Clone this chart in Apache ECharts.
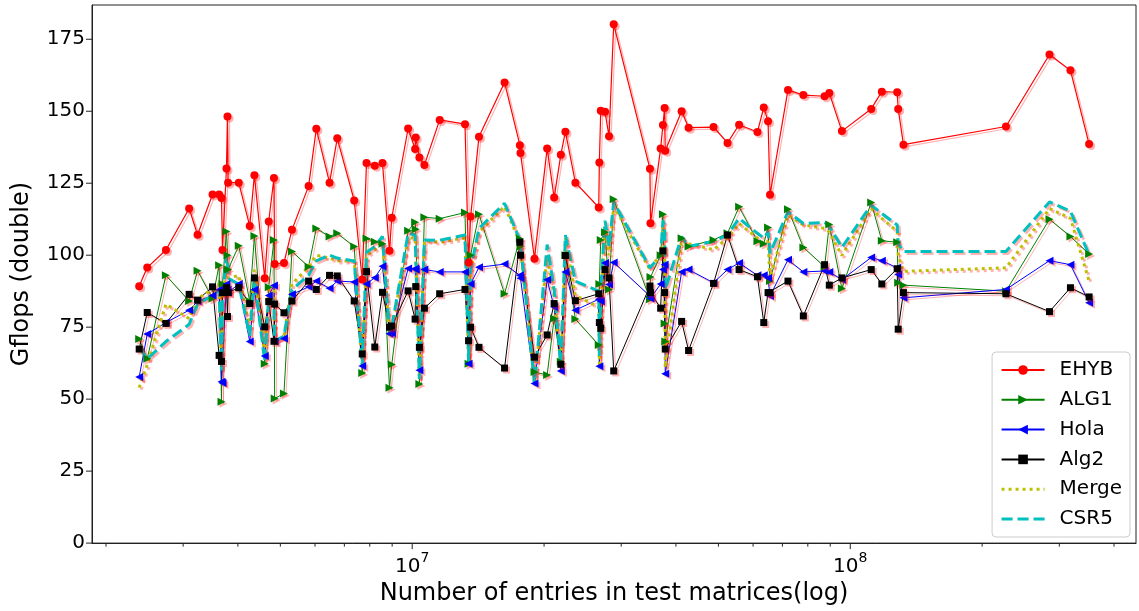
<!DOCTYPE html>
<html><head><meta charset="utf-8">
<script src="https://cdn.jsdelivr.net/npm/echarts@6/dist/echarts.min.js"></script>
<style>html,body{margin:0;padding:0;background:#fff}#c{width:1139px;height:611px}</style>
</head><body><div id="c"></div>
<script>
// Number of non-zero entries (x, log scale)
const nnz = [2.381e6,2.484e6,2.740e6,3.096e6,3.236e6,3.501e6,3.624e6,3.670e6,3.689e6,3.767e6,
3.787e6,3.799e6,4.018e6,4.257e6,4.363e6,4.606e6,4.704e6,4.835e6,4.853e6,5.096e6,
5.315e6,5.801e6,6.040e6,6.476e6,6.744e6,7.372e6,7.690e6,7.864e6,8.215e6,8.553e6,
8.874e6,8.981e6,9.788e6,1.0153e7,1.0186e7,1.0385e7,1.0661e7,1.1553e7,1.3198e7,1.3449e7,
1.3593e7,1.4204e7,1.6248e7,1.7611e7,1.7668e7,1.9015e7,2.0325e7,2.1086e7,2.1842e7,2.2372e7,
2.3578e7,2.6657e7,2.6743e7,2.6940e7,2.7555e7,2.8138e7,2.8840e7,3.4891e7,3.4988e7,3.6909e7,
3.7353e7,3.7690e7,3.7812e7,4.1210e7,4.2747e7,4.8740e7,5.2457e7,5.5745e7,6.1393e7,6.3463e7,
6.4911e7,6.5587e7,7.2075e7,7.8140e7,8.7366e7,8.9566e7,9.5693e7,1.1163e8,1.1803e8,1.2797e8,
1.2865e8,1.3225e8,2.2668e8,2.8497e8,3.1812e8,3.5092e8];
const ehyb = [89.2,95.7,101.8,116.2,107.1,121.1,121.1,119.9,101.8,130.1,
148.2,125.2,125.2,110.1,127.8,92,111.7,126.8,96.9,97.3,
108.8,124,143.9,125.2,140.6,119,91.6,132,131.1,132,
101.5,113,144,136.9,140.9,133.9,131.3,147,145.5,97.5,
113.4,141.1,160,138.2,135.5,98.8,137.1,120,134.9,142.9,
125.2,116.6,132.2,150.2,149.8,141.3,180.2,130,111.1,137.1,
145.2,151.1,136.3,150,144.3,144.5,139,145.3,142.8,151.3,
146.5,121,157.4,155.6,155.2,156.3,143.1,150.8,156.8,156.6,
150.8,138.4,144.7,169.7,164.2,138.6];
const alg1 = [70.9,64,93,84.1,94.6,85,96.5,49.1,90,108.2,
100,95,103.3,84,106.7,62.3,88.9,105.3,50.2,52,
101.3,96,109.3,106.5,107.6,103,59.1,105.8,104.7,104,
54,62,108.5,111.4,109,55.3,113.2,112.7,114.8,62.3,
100,114.2,86.6,105.7,103,59.4,58.4,78,63,100,
77.8,68.8,90,105.3,108,88.1,119.4,84.7,92.4,100,
114.2,76.3,70,105.9,103,105.3,107.6,116.8,104.8,104,
109.6,91,116,102.7,96,110.7,88.4,118.3,105,104.5,
90.4,89.6,87.5,112.5,106.5,100.4];
const hola = [57.7,72.6,76.6,80.9,84,86,88,56,55.6,90,
88,87,90,70,88,65,86,89.5,70,71.1,
86.4,89,91,88.5,91,90.7,61.5,90,92.2,96.2,
72.7,73,95.4,95.3,95,60,95,94.2,94.2,62.3,
90,95.8,96.9,93,92,55.4,91.5,82,59.8,94.2,
80.9,84.7,61.4,84,97.3,89.8,97.5,85.8,85,90,
95,96.7,58.8,94.2,95,90.4,95,97.3,93,93,
92.1,85.8,98.4,94.2,94.5,94.2,91.5,99.2,98.1,95.6,
93.3,85.2,88.1,98.1,96.7,83.5];
const alg2 = [67.4,80.1,76.3,86.4,84.4,89,65.2,63.1,87,88.7,
78.7,87,88.7,83.2,92.1,75.1,83.9,70.1,83,80,
84.1,91,88.1,93,92.8,84.1,65.7,94.3,68.1,87.1,
75,75.4,87.6,77.8,89.1,68,81.6,86.6,88.1,70.3,
75,68,60.8,104.5,100,64.6,72.3,83.2,62.1,99.9,
84.2,86.6,76.6,74.6,95,92.1,59.8,89.3,87,81.6,
101.5,87,67.4,77,66.9,90.2,107,95,92.5,76.6,
87,87,91,78.9,96.7,89.6,92.1,95,90,95.3,
74.3,87,86.6,80.4,88.7,85.5];
const merge = [54,62,83,78,85,88,90,60,85,95,
96,92,93,74,95,65,88,88,70,72,
90,96,100,99,98,98,61,100,102,105,
72,74,106,106,106,57,105,104.5,106,62,
95,108,117,104.5,103,55,100,86,61,106,
86,82,61,80,110,100,117,95,96,100,
110,100,61,105.3,104,101.9,106,111,105.9,104,
104.8,92,113.9,110.5,109.3,108,99.9,116.2,112.8,108.2,
100,94.4,95.6,116.2,112.8,91];
const csr5 = [68,64,70,76,83,86,88,60,85,100,
98,92,90,72,92,63,86,84,70,72,
88,93,98,100,99,98,62,101,103,106.5,
73,75,107.6,107,107,57,105.3,105.2,107,63,
95,109.3,118,105.3,104,55.4,103.7,88,62,107,
91,87.5,65,88,112,103,118.5,95.6,96,100,
112,110,88,106.5,103,104.8,107,112.8,107.6,106,
108.2,100.7,115.1,111,111.4,110,102.7,117.4,114.5,110.5,
104,101.3,101.3,118.5,115.3,100.1];
// tick values
const yTicks = [0,25,50,75,100,125,150,175];
const xMajorTicks = [1e7,1e8];
const xMinorTicks = [2e6,3e6,4e6,5e6,6e6,7e6,8e6,9e6,2e7,3e7,4e7,5e7,6e7,7e7,8e7,9e7,2e8,3e8,4e8];
const X_MIN = 1.858e6, X_MAX = 4.49e8, Y_MAX = 186.9;

const FONT = 'DejaVu Sans';
const SH = {shadowColor:'rgba(255,0,0,0.3)', shadowOffsetX:2, shadowOffsetY:2, shadowBlur:0};
const zip = a => nnz.map((x,i)=>[x,a[i]]);
function lineSeries(name, arr, color, symbol, rot, size, lw, type){
  return {
    name, type:'line', data: zip(arr), xAxisIndex:0, yAxisIndex:0,
    symbol: symbol, symbolSize: size, symbolRotate: rot, showSymbol: symbol !== 'none',
    lineStyle: Object.assign({color, width: lw, type: type || 'solid'}, SH),
    itemStyle: Object.assign({color, borderWidth:0}, SH),
    emphasis:{disabled:true}, animation:false, clip:false
  };
}
function tickSeries(vals, len, axis){
  return {
    type:'custom', silent:true, clip:false, animation:false, z:5,
    data: vals.map(v => axis==='x' ? [v, 0] : [X_MIN, v]),
    renderItem(params, api){
      const p = api.coord([api.value(0), api.value(1)]);
      const shape = axis==='x' ? {x1:p[0],y1:p[1],x2:p[0],y2:p[1]+len} : {x1:p[0]-len,y1:p[1],x2:p[0],y2:p[1]};
      return {type:'line', shape, style:{stroke:'#222', lineWidth:1}};
    }
  };
}
const chart = echarts.init(document.getElementById('c'), null, {renderer:'canvas'});
chart.setOption({
  animation:false,
  backgroundColor:'#fff',
  grid:{left:92, right:1, top:5, bottom:63.5, show:true, borderColor:'#222', borderWidth:1},
  xAxis:{type:'log', logBase:10, min:X_MIN, max:X_MAX,
    name:'Number of entries in test matrices(log)', nameLocation:'middle', nameGap:33,
    nameTextStyle:{fontSize:24, fontFamily:FONT, color:'#000'},
    axisLine:{show:true, lineStyle:{color:'#222'}}, axisTick:{show:false}, splitLine:{show:false}, minorTick:{show:false},
    axisLabel:{margin:8, color:'#000', fontFamily:FONT,
      formatter: v => { const e = Math.log10(v); if (Math.abs(e-Math.round(e))>1e-6) return ''; return '{b|10}{s|'+Math.round(e)+'}'; },
      rich:{b:{fontSize:20, fontFamily:FONT, color:'#000', lineHeight:26, verticalAlign:'bottom'}, s:{fontSize:14, fontFamily:FONT, color:'#000', lineHeight:12, verticalAlign:'top'}}
    }},
  yAxis:{type:'value', min:0, max:Y_MAX, interval:25,
    name:'Gflops (double)', nameLocation:'middle', nameGap:58, nameRotate:90,
    nameTextStyle:{fontSize:24, fontFamily:FONT, color:'#000'},
    axisLine:{show:true, lineStyle:{color:'#222'}}, axisTick:{show:false}, splitLine:{show:false},
    axisLabel:{margin:7, fontSize:20, fontFamily:FONT, color:'#000', formatter: v => (yTicks.indexOf(v) >= 0 ? String(v) : '')}},
  legend:{data:['EHYB','ALG1','Hola','Alg2',
      {name:'Merge', itemStyle:{opacity:0}, lineStyle:{width:3, type:[3,4], color:'#bfbf00'}},
      {name:'CSR5', itemStyle:{opacity:0}, lineStyle:{width:3, type:[11,5], color:'#00bfbf'}}],
    orient:'vertical', right:9, top:352,
    backgroundColor:'rgba(255,255,255,0.8)', borderColor:'#ccc', borderWidth:1, borderRadius:4,
    padding:[8,8,8,8], itemWidth:43, itemHeight:12, itemGap:9.8,
    textStyle:{fontSize:20, fontFamily:FONT, color:'#000', lineHeight:20, padding:[0,0,0,10]}},
  series:[
    lineSeries('EHYB', ehyb, '#ff0000', 'circle', 0, 8, 1.2),
    lineSeries('ALG1', alg1, '#008000', 'triangle', -90, 8, 1),
    lineSeries('Hola', hola, '#0000ff', 'triangle', 90, 8, 1),
    lineSeries('Alg2', alg2, '#000000', 'rect', 0, 7, 1),
    lineSeries('Merge', merge, '#bfbf00', 'none', 0, 0, 3, [3,4]),
    lineSeries('CSR5', csr5, '#00bfbf', 'none', 0, 0, 3, [11,5]),
    tickSeries(xMajorTicks, 6, 'x'),
    tickSeries(xMinorTicks, 3.5, 'x'),
    tickSeries(yTicks, 6, 'y')
  ]
});
</script></body></html>
